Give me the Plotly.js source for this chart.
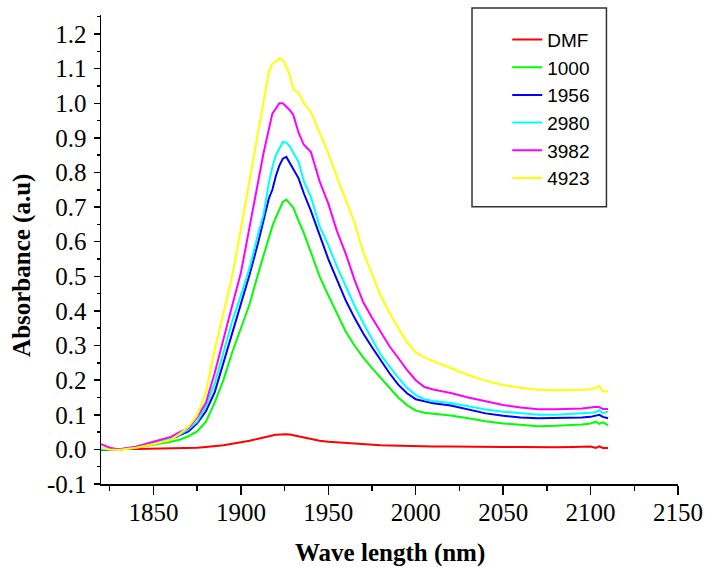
<!DOCTYPE html>
<html>
<head>
<meta charset="utf-8">
<script src="https://cdn.plot.ly/plotly-3.0.1.min.js"></script>
<style>html,body{margin:0;padding:0;background:#fff;}#chart{width:707px;height:567px;}</style>
</head>
<body>
<div id="chart"></div>
<script>
const wavelength = [1820,1825,1830,1840,1850,1860,1865,1870,1875,1880,1885,1890,1895,1900,1905,1910,1913,1916,1918,1920,1922,1924,1926,1928,1930,1933,1936,1940,1945,1950,1955,1960,1965,1970,1975,1980,1985,1990,1995,2000,2005,2010,2020,2030,2040,2050,2060,2070,2080,2090,2095,2100,2103,2105,2107,2110];

const dmf   = [0.002,0.001,0.001,0.001,0.002,0.003,0.003,0.004,0.005,0.007,0.009,0.012,0.016,0.020,0.025,0.031,0.035,0.038,0.040,0.042,0.043,0.044,0.044,0.043,0.041,0.038,0.034,0.029,0.025,0.022,0.020,0.018,0.016,0.014,0.013,0.012,0.011,0.010,0.009,0.009,0.008,0.008,0.008,0.007,0.007,0.007,0.007,0.006,0.006,0.007,0.007,0.008,0.004,0.009,0.004,0.004];
const s1000 = [-0.002,-0.002,-0.001,0.005,0.013,0.022,0.028,0.038,0.052,0.080,0.135,0.200,0.280,0.350,0.420,0.510,0.560,0.615,0.645,0.670,0.695,0.715,0.722,0.710,0.698,0.660,0.625,0.570,0.500,0.445,0.390,0.340,0.300,0.265,0.235,0.208,0.178,0.150,0.128,0.112,0.106,0.103,0.098,0.090,0.081,0.075,0.070,0.067,0.068,0.070,0.072,0.075,0.080,0.074,0.078,0.070];
const s1956 = [-0.002,-0.002,0.000,0.006,0.016,0.030,0.040,0.052,0.075,0.110,0.165,0.250,0.330,0.420,0.505,0.600,0.665,0.725,0.750,0.790,0.820,0.840,0.845,0.828,0.810,0.783,0.740,0.690,0.620,0.550,0.490,0.430,0.380,0.335,0.295,0.258,0.220,0.187,0.162,0.145,0.138,0.133,0.127,0.116,0.104,0.097,0.092,0.090,0.090,0.091,0.092,0.094,0.097,0.100,0.094,0.090];
const s2980 = [0.000,0.000,0.000,0.008,0.018,0.032,0.043,0.058,0.080,0.125,0.190,0.280,0.370,0.445,0.525,0.625,0.680,0.770,0.815,0.850,0.870,0.888,0.887,0.875,0.857,0.831,0.775,0.730,0.645,0.590,0.527,0.470,0.415,0.365,0.318,0.273,0.240,0.207,0.178,0.157,0.145,0.140,0.134,0.125,0.115,0.109,0.104,0.100,0.100,0.102,0.104,0.106,0.108,0.113,0.104,0.110];
const s3982 = [0.015,0.005,0.000,0.008,0.022,0.036,0.050,0.062,0.092,0.135,0.220,0.320,0.415,0.510,0.645,0.778,0.857,0.925,0.970,0.985,1.000,1.000,0.990,0.980,0.966,0.915,0.880,0.860,0.775,0.710,0.630,0.565,0.490,0.425,0.380,0.338,0.298,0.264,0.230,0.200,0.180,0.173,0.163,0.150,0.138,0.128,0.121,0.116,0.116,0.117,0.118,0.121,0.123,0.122,0.117,0.117];
const s4923 = [0.005,0.000,-0.002,0.005,0.015,0.028,0.045,0.065,0.098,0.165,0.287,0.393,0.500,0.637,0.780,0.925,1.010,1.090,1.115,1.120,1.130,1.125,1.105,1.080,1.040,1.030,1.000,0.975,0.915,0.855,0.785,0.720,0.655,0.570,0.505,0.443,0.395,0.350,0.310,0.280,0.265,0.255,0.235,0.215,0.198,0.186,0.178,0.172,0.171,0.171,0.172,0.174,0.178,0.183,0.167,0.168];

const seriesNames = ["DMF","1000","1956","2980","3982","4923"];
const seriesData = [dmf, s1000, s1956, s2980, s3982, s4923];
const seriesColors = ["#ff0000","#00ff00","#0000ff","#00ffff","#ff00ff","#ffff00"];

const xTickVals = [1850,1900,1950,2000,2050,2100,2150];
const xTickText = ["1850","1900","1950","2000","2050","2100","2150"];
const yTickVals = [-0.1,0,0.1,0.2,0.3,0.4,0.5,0.6,0.7,0.8,0.9,1.0,1.1,1.2];
const yTickText = ["-0.1","0.0","0.1","0.2","0.3","0.4","0.5","0.6","0.7","0.8","0.9","1.0","1.1","1.2"];
const xTitle = "Wave length (nm)";
const yTitle = "Absorbance (a.u)";

const traces = seriesNames.map((n,i)=>({
  x: wavelength, y: seriesData[i], name: n, type: 'scatter', mode: 'lines',
  line: {color: seriesColors[i], width: 2}
}));

const serif = 'Liberation Serif';
const layout = {
  width: 707, height: 567,
  font: {family: serif, size: 25, color: '#000'},
  margin: {l: 101, r: 29, t: 15, b: 83},
  paper_bgcolor: '#fff', plot_bgcolor: '#fff',
  showlegend: true,
  legend: {
    x: 0.704, y: 0.988, xanchor: 'left', yanchor: 'top',
    bgcolor: 'rgba(0,0,0,0)', borderwidth: 0,
    font: {family: 'Liberation Sans', size: 19, color: '#000'},
    tracegroupgap: 0
  },
  shapes: [{type: 'rect', xref: 'paper', yref: 'paper', x0: 0.643, x1: 0.876, y0: 0.591, y1: 1.015,
            line: {color: '#333', width: 1.5}, fillcolor: 'rgba(0,0,0,0)'}],
  annotations: [
    {text: '<b>' + yTitle + '</b>', xref: 'paper', yref: 'paper', x: -0.137, y: 0.467,
     xanchor: 'center', yanchor: 'middle', textangle: -90, showarrow: false,
     font: {family: serif, size: 25, color: '#000'}},
    {text: '<b>' + xTitle + '</b>', xref: 'paper', yref: 'paper', x: 0.5, y: -0.147,
     xanchor: 'center', yanchor: 'middle', showarrow: false,
     font: {family: serif, size: 25, color: '#000'}}
  ],
  xaxis: {
    range: [1820, 2150], showgrid: false, zeroline: false,
    showline: true, linecolor: '#000', linewidth: 1.5,
    ticks: 'outside', ticklen: 9, tickwidth: 1.5, tickcolor: '#000',
    tickvals: xTickVals, ticktext: xTickText, ticklabelstandoff: -4,
    minor: {dtick: 25, tick0: 1825, ticks: 'outside', ticklen: 5, tickwidth: 1.5, tickcolor: '#000', showgrid: false},
    tickfont: {family: serif, size: 25, color: '#000'}
  },
  yaxis: {
    range: [-0.1, 1.255], showgrid: false, zeroline: false,
    showline: true, linecolor: '#000', linewidth: 1.5,
    ticks: 'outside', ticklen: 6, tickwidth: 1.5, tickcolor: '#000',
    tickvals: yTickVals, ticktext: yTickText, ticklabelstandoff: 2,
    minor: {dtick: 0.05, tick0: -0.05, ticks: 'outside', ticklen: 3, tickwidth: 1.5, tickcolor: '#000', showgrid: false},
    tickfont: {family: serif, size: 25, color: '#000'}
  }
};

Plotly.newPlot('chart', traces, layout, {displayModeBar: false, staticPlot: true});
</script>
</body>
</html>
